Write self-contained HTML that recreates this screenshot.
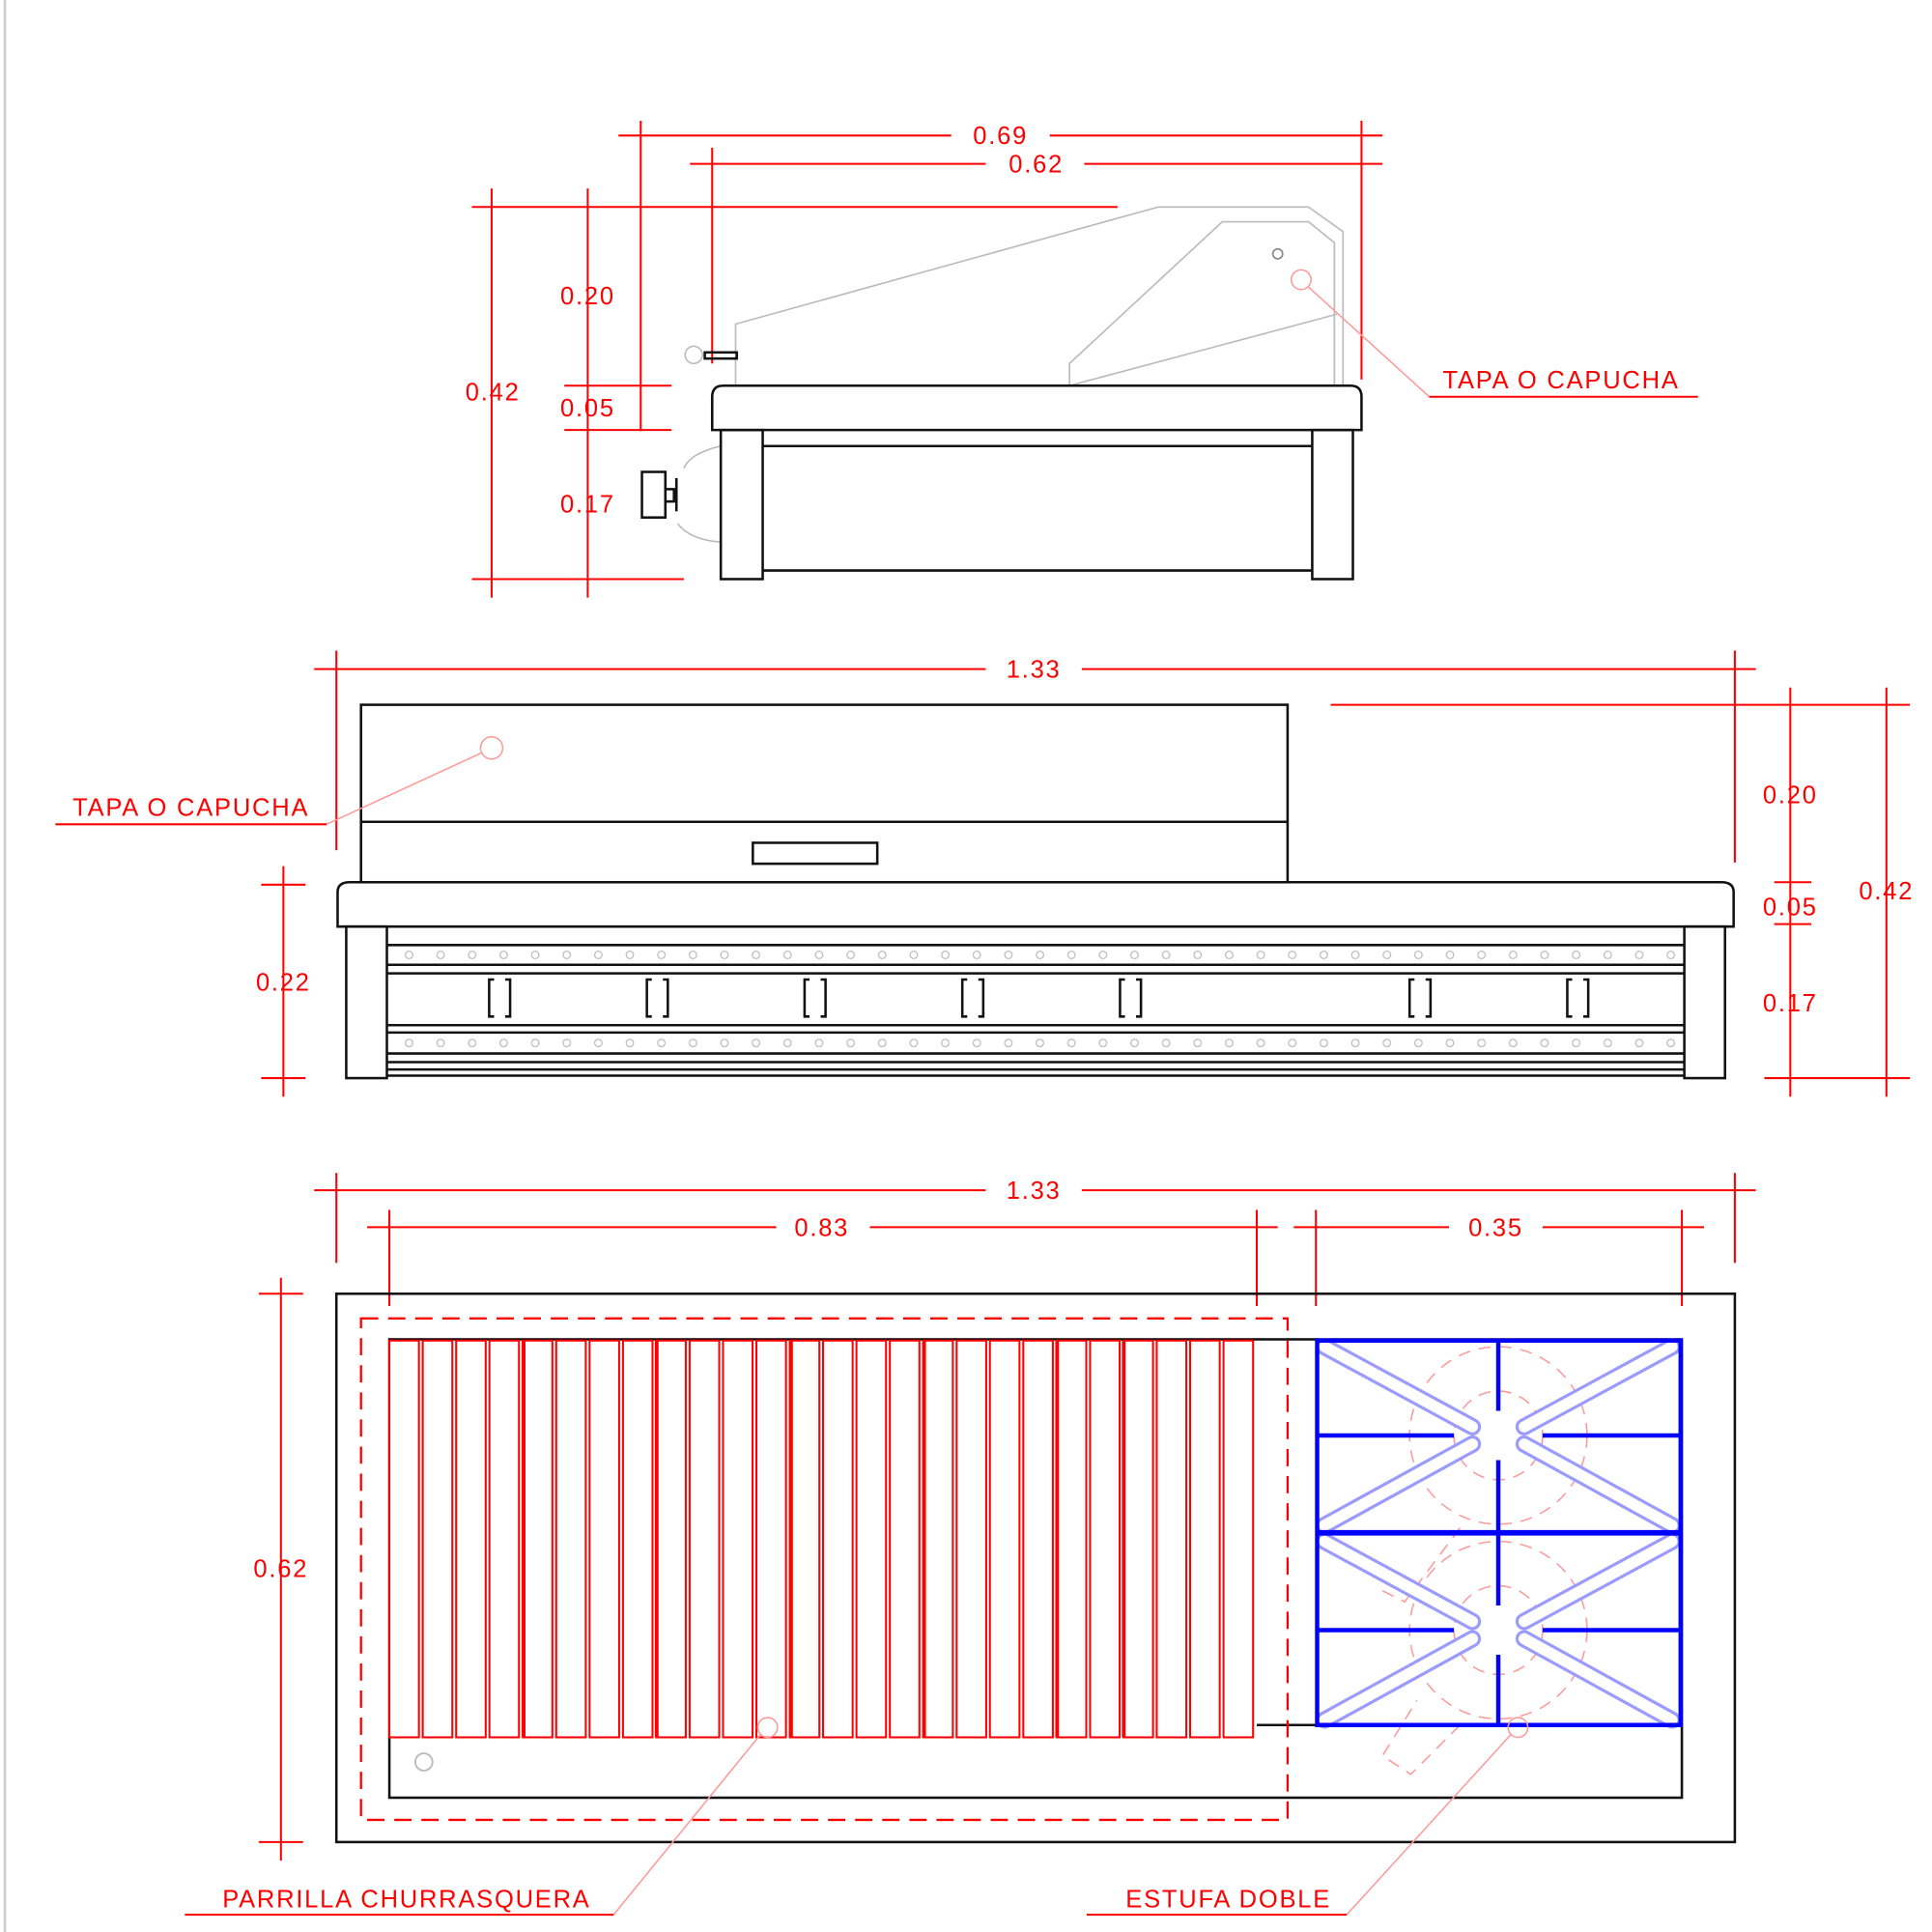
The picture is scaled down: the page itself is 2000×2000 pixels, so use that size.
<!DOCTYPE html>
<html><head><meta charset="utf-8"><style>
html,body{margin:0;padding:0;background:#fff;}
svg{display:block;}
text{font-family:"Liberation Sans",sans-serif;font-size:20px;fill:#f00;text-anchor:middle;letter-spacing:1.4px;}
</style></head><body>
<svg width="2000" height="2000" viewBox="0 0 1568 1568" xmlns="http://www.w3.org/2000/svg">
<defs>
<pattern id="dots1" x="320" y="767" width="25.6" height="16" patternUnits="userSpaceOnUse">
<circle cx="12" cy="8" r="3" fill="none" stroke="#bbb" stroke-width="1"/>
</pattern>
<pattern id="dots2" x="320" y="838" width="25.6" height="17" patternUnits="userSpaceOnUse">
<circle cx="12" cy="8.5" r="3" fill="none" stroke="#bbb" stroke-width="1"/>
</pattern>
</defs>
<rect width="1568" height="1568" fill="#fff"/>
<line x1="4" y1="0" x2="4" y2="1568" stroke="#ccc" stroke-width="2"/>

<!-- ===== TOP VIEW ===== -->
<g stroke="#f00" stroke-width="1.6" fill="none">
<line x1="502" y1="110" x2="772" y2="110"/><line x1="852" y1="110" x2="1122" y2="110"/>
<line x1="520" y1="98" x2="520" y2="350"/><line x1="1105" y1="98" x2="1105" y2="308"/>
<line x1="560" y1="133" x2="800" y2="133"/><line x1="880" y1="133" x2="1122" y2="133"/>
<line x1="578" y1="120" x2="578" y2="295"/>
<line x1="383" y1="168" x2="907" y2="168"/>
<line x1="399" y1="153" x2="399" y2="485"/>
<line x1="477" y1="153" x2="477" y2="485"/>
<line x1="458" y1="313" x2="545" y2="313"/>
<line x1="458" y1="349" x2="545" y2="349"/>
<line x1="383" y1="470" x2="555" y2="470"/>
</g>
<text x="812" y="117">0.69</text>
<text x="841" y="140">0.62</text>
<text x="477" y="247">0.20</text>
<text x="400" y="325">0.42</text>
<text x="477" y="338">0.05</text>
<text x="477" y="416">0.17</text>

<g stroke="#bbb" stroke-width="1.3" fill="none">
<polyline points="597,313 597,263 940,168 1062,168 1090,188 1090,313"/>
<polyline points="868,313 868,295 992,180 1062,180 1083,197 1083,313"/>
<line x1="868" y1="313" x2="1085" y2="255"/>
<circle cx="1037" cy="206" r="4" stroke="#888"/>
<circle cx="563" cy="288" r="7"/>
<path d="M555,380 Q560,368 585,362 M550,425 Q560,438 585,440"/>
</g>
<g stroke="#111" stroke-width="2" fill="none">
<rect x="572" y="286" width="26" height="5"/>
<path d="M578,349 V322 Q578,313 587,313 H1096 Q1105,313 1105,322 V349 Z"/>
<rect x="585" y="349" width="34" height="121"/>
<rect x="1065" y="349" width="33" height="121"/>
<line x1="619" y1="362" x2="1065" y2="362"/>
<line x1="619" y1="463" x2="1065" y2="463"/>
<rect x="521" y="383" width="19" height="37"/>
<rect x="540" y="397" width="7" height="10"/>
<line x1="549" y1="388" x2="549" y2="415"/>
</g>
<circle cx="1056" cy="227" r="8" fill="none" stroke="#f99" stroke-width="1.2"/>
<polyline points="1062,233 1160,322 1378,322" fill="none" stroke="#f99" stroke-width="1.2"/>
<line x1="1160" y1="322" x2="1378" y2="322" stroke="#f00" stroke-width="1.6"/>
<text x="1267" y="315">TAPA O CAPUCHA</text>

<!-- ===== MIDDLE VIEW ===== -->
<g stroke="#f00" stroke-width="1.6" fill="none">
<line x1="255" y1="543" x2="800" y2="543"/><line x1="878" y1="543" x2="1425" y2="543"/>
<line x1="273" y1="528" x2="273" y2="690"/><line x1="1408" y1="528" x2="1408" y2="700"/>
<line x1="1080" y1="572" x2="1550" y2="572"/>
<line x1="1453" y1="558" x2="1453" y2="890"/>
<line x1="1531" y1="558" x2="1531" y2="890"/>
<line x1="1440" y1="716" x2="1470" y2="716"/>
<line x1="1440" y1="750" x2="1470" y2="750"/>
<line x1="1432" y1="875" x2="1550" y2="875"/>
<line x1="230" y1="703" x2="230" y2="890"/>
<line x1="212" y1="718" x2="248" y2="718"/>
<line x1="212" y1="875" x2="248" y2="875"/>
</g>
<text x="839" y="550">1.33</text>
<text x="1453" y="652">0.20</text>
<text x="1531" y="730">0.42</text>
<text x="1453" y="743">0.05</text>
<text x="1453" y="821">0.17</text>
<text x="230" y="804">0.22</text>

<rect x="314" y="767" width="1053" height="16" fill="url(#dots1)"/>
<rect x="314" y="838" width="1053" height="17" fill="url(#dots2)"/>
<g stroke="#111" stroke-width="2" fill="none">
<rect x="293" y="572" width="752" height="144"/>
<line x1="293" y1="667" x2="1045" y2="667"/>
<rect x="611" y="684" width="101" height="17"/>
<path d="M274,752 V724 Q274,716 284,716 H1397 Q1407,716 1407,724 V752 Z"/>
<rect x="281" y="752" width="33" height="123"/>
<rect x="1367" y="752" width="33" height="123"/>
<line x1="314" y1="767" x2="1367" y2="767"/>
<line x1="314" y1="783" x2="1367" y2="783"/>
<line x1="314" y1="790" x2="1367" y2="790"/>
<line x1="314" y1="832" x2="1367" y2="832"/>
<line x1="314" y1="838" x2="1367" y2="838"/>
<line x1="314" y1="855" x2="1367" y2="855"/>
<line x1="314" y1="862" x2="1367" y2="862"/>
<line x1="314" y1="868" x2="1367" y2="868"/>
<line x1="314" y1="873" x2="1367" y2="873"/>
</g>
<g stroke="#111" stroke-width="2" fill="none">
<path d="M401,795 h-4 v30 h4 M410,795 h4 v30 h-4"/>
<path d="M529,795 h-4 v30 h4 M538,795 h4 v30 h-4"/>
<path d="M657,795 h-4 v30 h4 M666,795 h4 v30 h-4"/>
<path d="M785,795 h-4 v30 h4 M794,795 h4 v30 h-4"/>
<path d="M913,795 h-4 v30 h4 M922,795 h4 v30 h-4"/>
<path d="M1148,795 h-4 v30 h4 M1157,795 h4 v30 h-4"/>
<path d="M1276,795 h-4 v30 h4 M1285,795 h4 v30 h-4"/>
</g>
<circle cx="399" cy="607" r="9" fill="none" stroke="#f99" stroke-width="1.2"/>
<line x1="391" y1="611" x2="265" y2="669" stroke="#f99" stroke-width="1.2"/>
<line x1="45" y1="669" x2="265" y2="669" stroke="#f00" stroke-width="1.6"/>
<text x="155" y="662">TAPA O CAPUCHA</text>

<!-- ===== BOTTOM VIEW ===== -->
<g stroke="#f00" stroke-width="1.6" fill="none">
<line x1="255" y1="966" x2="800" y2="966"/><line x1="878" y1="966" x2="1425" y2="966"/>
<line x1="273" y1="952" x2="273" y2="1025"/><line x1="1408" y1="952" x2="1408" y2="1025"/>
<line x1="298" y1="996" x2="630" y2="996"/><line x1="706" y1="996" x2="1037" y2="996"/>
<line x1="316" y1="982" x2="316" y2="1060"/><line x1="1020" y1="982" x2="1020" y2="1060"/>
<line x1="1050" y1="996" x2="1176" y2="996"/><line x1="1252" y1="996" x2="1383" y2="996"/>
<line x1="1068" y1="982" x2="1068" y2="1060"/><line x1="1365" y1="982" x2="1365" y2="1060"/>
<line x1="228" y1="1037" x2="228" y2="1510"/>
<line x1="210" y1="1050" x2="246" y2="1050"/>
<line x1="210" y1="1495" x2="246" y2="1495"/>
</g>
<text x="839" y="973">1.33</text>
<text x="667" y="1003">0.83</text>
<text x="1214" y="1003">0.35</text>
<text x="228" y="1280">0.62</text>

<g stroke="#111" stroke-width="2" fill="none">
<rect x="273" y="1050" width="1135" height="445"/>
<rect x="316" y="1087" width="1049" height="372"/>
<line x1="1020" y1="1400" x2="1068" y2="1400"/>
</g>
<rect x="293" y="1070" width="752" height="407" fill="none" stroke="#f00" stroke-width="1.8" stroke-dasharray="14,8"/>
<circle cx="344" cy="1430" r="7" fill="none" stroke="#bbb" stroke-width="1.5"/>

<g stroke="#f00" stroke-width="1.6" fill="#fff">
<rect x="316" y="1088" width="24" height="322"/><rect x="343.1" y="1088" width="24" height="322"/>
<rect x="370.2" y="1088" width="24" height="322"/><rect x="397.2" y="1088" width="24" height="322"/>
<rect x="424.3" y="1088" width="24" height="322"/><rect x="451.4" y="1088" width="24" height="322"/>
<rect x="478.5" y="1088" width="24" height="322"/><rect x="505.6" y="1088" width="24" height="322"/>
<rect x="532.6" y="1088" width="24" height="322"/><rect x="559.7" y="1088" width="24" height="322"/>
<rect x="586.8" y="1088" width="24" height="322"/><rect x="613.9" y="1088" width="24" height="322"/>
<rect x="641" y="1088" width="24" height="322"/><rect x="668" y="1088" width="24" height="322"/>
<rect x="695.1" y="1088" width="24" height="322"/><rect x="722.2" y="1088" width="24" height="322"/>
<rect x="749.3" y="1088" width="24" height="322"/><rect x="776.4" y="1088" width="24" height="322"/>
<rect x="803.4" y="1088" width="24" height="322"/><rect x="830.5" y="1088" width="24" height="322"/>
<rect x="857.6" y="1088" width="24" height="322"/><rect x="884.7" y="1088" width="24" height="322"/>
<rect x="911.8" y="1088" width="24" height="322"/><rect x="938.8" y="1088" width="24" height="322"/>
<rect x="965.9" y="1088" width="24" height="322"/><rect x="993" y="1088" width="24" height="322"/>
</g>
<g stroke="#f00" stroke-width="3">
<line x1="425" y1="1088" x2="425" y2="1410"/><line x1="533" y1="1088" x2="533" y2="1410"/>
<line x1="642" y1="1088" x2="642" y2="1410"/><line x1="750" y1="1088" x2="750" y2="1410"/>
<line x1="858" y1="1088" x2="858" y2="1410"/><line x1="912" y1="1088" x2="912" y2="1410"/>
</g>

<g fill="none" stroke="#f99" stroke-width="1.2" stroke-dasharray="10,7">
<circle cx="1216" cy="1165" r="72"/><circle cx="1216" cy="1165" r="36"/>
<circle cx="1216" cy="1323" r="72"/><circle cx="1216" cy="1323" r="36"/>
<path d="M1185,1240 L1140,1300 L1120,1290 M1185,1400 L1145,1440 L1122,1425 L1150,1380"/>
</g>
<g stroke="#9b9bff" stroke-width="14" fill="none" stroke-linecap="round">
<path d="M1075,1093 L1195,1158 M1075,1238 L1195,1172 M1357,1093 L1237,1158 M1357,1238 L1237,1172"/>
<path d="M1075,1251 L1195,1316 M1075,1396 L1195,1330 M1357,1251 L1237,1316 M1357,1396 L1237,1330"/>
</g>
<g stroke="#fff" stroke-width="9" fill="none" stroke-linecap="round">
<path d="M1075,1093 L1195,1158 M1075,1238 L1195,1172 M1357,1093 L1237,1158 M1357,1238 L1237,1172"/>
<path d="M1075,1251 L1195,1316 M1075,1396 L1195,1330 M1357,1251 L1237,1316 M1357,1396 L1237,1330"/>
</g>
<g stroke="#00f" stroke-width="3.5" fill="none">
<rect x="1069" y="1088" width="295" height="312"/>
<line x1="1069" y1="1244" x2="1364" y2="1244" stroke-width="4.5"/>
<line x1="1216" y1="1088" x2="1216" y2="1145"/><line x1="1216" y1="1185" x2="1216" y2="1303"/>
<line x1="1216" y1="1343" x2="1216" y2="1400"/>
<line x1="1069" y1="1165" x2="1180" y2="1165"/><line x1="1252" y1="1165" x2="1364" y2="1165"/>
<line x1="1069" y1="1323" x2="1180" y2="1323"/><line x1="1252" y1="1323" x2="1364" y2="1323"/>
</g>

<circle cx="623" cy="1402" r="8" fill="none" stroke="#f99" stroke-width="1.2"/>
<line x1="617" y1="1408" x2="498" y2="1554" stroke="#f99" stroke-width="1.2"/>
<line x1="150" y1="1554" x2="498" y2="1554" stroke="#f00" stroke-width="1.6"/>
<text x="330" y="1548">PARRILLA CHURRASQUERA</text>
<circle cx="1232" cy="1402" r="8" fill="none" stroke="#f99" stroke-width="1.2"/>
<line x1="1226" y1="1408" x2="1093" y2="1554" stroke="#f99" stroke-width="1.2"/>
<line x1="882" y1="1554" x2="1093" y2="1554" stroke="#f00" stroke-width="1.6"/>
<text x="997" y="1548">ESTUFA DOBLE</text>
</svg>
</body></html>
